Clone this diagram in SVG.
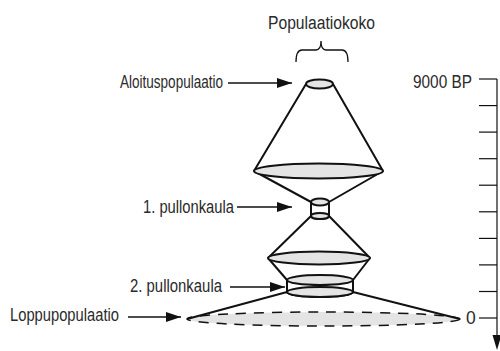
<svg xmlns="http://www.w3.org/2000/svg" width="500" height="351" viewBox="0 0 500 351">
<style>
text{font-family:"Liberation Sans",Arial,sans-serif;font-size:17.5px;fill:#2a2a2a}
.s{stroke:#111;stroke-width:2;fill:none}
.e{stroke:#111;stroke-width:2;fill:#e4e4e4}
.w{stroke:#111;stroke-width:2;fill:#fff}
.a{stroke:#111;stroke-width:1.3;fill:none}
.t{stroke:#111;stroke-width:1.2}
</style>
<defs>
<marker id="ah" viewBox="0 0 15 10" refX="15" refY="5" markerWidth="15" markerHeight="10" markerUnits="userSpaceOnUse" orient="auto">
<path d="M0,0 L15,5 L0,10 Z" fill="#111"/>
</marker>
</defs>
<rect width="500" height="351" fill="#fff"/>

<g id="title">
<text x="268" y="29" textLength="107" lengthAdjust="spacingAndGlyphs" style="font-size:18px">Populaatiokoko</text>
<path class="a" d="M296,62 Q296,50 302,50 L316,50 Q321,50 321,41 Q321,50 326,50 L342,50 Q348,50 348,62"/>
</g>

<g id="connectors">
<line class="a" x1="228" y1="83" x2="292" y2="83" marker-end="url(#ah)"/>
<line class="a" x1="237" y1="207" x2="292" y2="207" marker-end="url(#ah)"/>
<line class="a" x1="230" y1="287" x2="285" y2="287" marker-end="url(#ah)"/>
<line class="a" x1="128" y1="317" x2="181" y2="317" marker-end="url(#ah)"/>
</g>

<g id="aloituspopulaatio">
<text x="120" y="88" textLength="103" lengthAdjust="spacingAndGlyphs">Aloituspopulaatio</text>
<path class="s" d="M306,84 L254,171 M333,84 L383,171"/>
<ellipse class="e" cx="319.5" cy="84" rx="13.5" ry="4.5"/>
</g>

<g id="pullonkaula1">
<text x="143" y="213" textLength="91" lengthAdjust="spacingAndGlyphs">1. pullonkaula</text>
<path class="s" d="M254,171 L311,202 M383,171 L329,202"/>
<ellipse class="e" cx="318.5" cy="171" rx="64.5" ry="7.5"/>
<path class="s" d="M311,216 L268,258 M329,216 L370,258"/>
<path class="w" d="M311,202 L311,216 A9,3 0 0 0 329,216 L329,202 Z"/>
<ellipse class="e" cx="320" cy="216" rx="9" ry="3"/>
<ellipse class="e" cx="320" cy="202" rx="9" ry="3.5"/>
</g>

<g id="pullonkaula2">
<text x="130" y="292" textLength="92" lengthAdjust="spacingAndGlyphs">2. pullonkaula</text>
<path class="s" d="M268,258 L287,280 M370,258 L353,280"/>
<ellipse class="e" cx="319" cy="258" rx="51" ry="6.5"/>
<path class="w" d="M287,280 L287,292 A33,5 0 0 0 353,292 L353,280 Z"/>
<ellipse class="e" cx="320" cy="292" rx="33" ry="5"/>
<ellipse class="e" cx="320" cy="280" rx="33" ry="5"/>
</g>

<g id="loppupopulaatio">
<text x="10" y="321" textLength="109" lengthAdjust="spacingAndGlyphs">Loppupopulaatio</text>
<ellipse cx="323.5" cy="319" rx="136.5" ry="7" fill="#e4e4e4" stroke="#111" stroke-width="1.5" stroke-dasharray="10,8"/>
<path class="s" d="M287,292 L187,319 M353,292 L460,319"/>
</g>

<g id="axis">
<text x="413" y="88" textLength="59" lengthAdjust="spacingAndGlyphs">9000 BP</text>
<text x="466" y="324">0</text>
<line class="t" x1="497" y1="79" x2="497" y2="336"/>
<path d="M492.5,335 L501.5,335 L497,350 Z" fill="#111"/>
<g class="t">
<line x1="479" y1="79" x2="497" y2="79"/>
<line x1="479" y1="105.6" x2="497" y2="105.6"/>
<line x1="479" y1="132.1" x2="497" y2="132.1"/>
<line x1="479" y1="158.7" x2="497" y2="158.7"/>
<line x1="479" y1="185.2" x2="497" y2="185.2"/>
<line x1="479" y1="211.8" x2="497" y2="211.8"/>
<line x1="479" y1="238.4" x2="497" y2="238.4"/>
<line x1="479" y1="264.9" x2="497" y2="264.9"/>
<line x1="479" y1="291.5" x2="497" y2="291.5"/>
<line x1="479" y1="318" x2="497" y2="318"/>
</g>
</g>
</svg>
